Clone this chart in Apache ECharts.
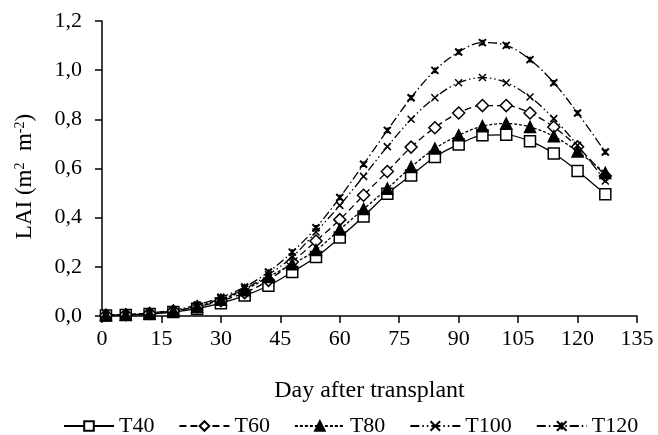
<!DOCTYPE html>
<html>
<head>
<meta charset="utf-8">
<script src="https://cdn.jsdelivr.net/npm/echarts@6/dist/echarts.min.js"></script>
<style>
  html, body { margin: 0; padding: 0; background: #fff; }
  #main { width: 658px; height: 435px; }
</style>
</head>
<body>
<div id="main"></div>
<script>
// days after transplant
var days = [1, 6, 12, 18, 24, 30, 36, 42, 48, 54, 60, 66, 72, 78, 84, 90, 96, 102, 108, 114, 120, 127];

var t40 = [0.002, 0.004, 0.008, 0.016, 0.030, 0.052, 0.083, 0.123, 0.179, 0.240, 0.319, 0.405, 0.497, 0.572, 0.647, 0.698, 0.735, 0.737, 0.711, 0.661, 0.590, 0.495];
var t60 = [0.003, 0.005, 0.010, 0.020, 0.037, 0.062, 0.095, 0.145, 0.220, 0.305, 0.392, 0.491, 0.588, 0.687, 0.766, 0.826, 0.856, 0.856, 0.826, 0.769, 0.688, 0.570];
var t80 = [0.003, 0.005, 0.010, 0.021, 0.038, 0.066, 0.105, 0.159, 0.211, 0.268, 0.352, 0.435, 0.518, 0.606, 0.681, 0.735, 0.772, 0.783, 0.769, 0.731, 0.669, 0.582];
var t100 = [0.003, 0.005, 0.011, 0.022, 0.040, 0.070, 0.110, 0.168, 0.240, 0.342, 0.450, 0.568, 0.689, 0.800, 0.888, 0.949, 0.970, 0.949, 0.891, 0.803, 0.694, 0.549];
var t120 = [0.003, 0.006, 0.012, 0.024, 0.045, 0.076, 0.118, 0.179, 0.260, 0.359, 0.482, 0.617, 0.755, 0.888, 0.999, 1.074, 1.112, 1.101, 1.043, 0.949, 0.826, 0.667];

var seriesNames = ['T40', 'T60', 'T80', 'T100', 'T120'];

var FONT = 'Liberation Serif';

var myChart = echarts.init(document.getElementById('main'));

function pairs(vals) {
    return vals.map(function (v, i) { return [days[i], v]; });
}

// marker shapes
var xPath = 'path://M0,0L10,10M10,0L0,10';
var starPath = 'path://M0,0L10,10M10,0L0,10M5,1L5,9';

function mkSeries(name, vals, symbol, size, dash, filled, strokeMarker) {
    return {
        name: name,
        type: 'line',
        data: pairs(vals),
        smooth: 0.35,
        symbol: symbol,
        symbolSize: size,
        showAllSymbol: true,
        lineStyle: { color: '#000', width: 1.3, type: dash },
        itemStyle: strokeMarker ? {
            color: 'rgba(0,0,0,0)',
            borderColor: '#000',
            borderWidth: strokeMarker
        } : {
            color: filled ? '#000' : '#fff',
            borderColor: '#000',
            borderWidth: 1.5
        },
        emphasis: { disabled: true },
        z: 2
    };
}

var option = {
    animation: false,
    backgroundColor: '#fff',
    grid: { left: 102, right: 21, top: 21, bottom: 119 },
    textStyle: { fontFamily: FONT, color: '#000' },
    xAxis: {
        type: 'value',
        min: 0,
        max: 135,
        interval: 15,
        name: 'Day after transplant',
        nameLocation: 'middle',
        nameGap: 63,
        nameTextStyle: { fontFamily: FONT, fontSize: 24, color: '#000' },
        axisLine: { show: true, lineStyle: { color: '#000', width: 1.5 } },
        axisTick: { show: true, inside: false, length: 7, lineStyle: { color: '#000', width: 1.5 } },
        axisLabel: { fontFamily: FONT, fontSize: 22, color: '#000', margin: 12 },
        splitLine: { show: false }
    },
    yAxis: {
        type: 'value',
        min: 0,
        max: 1.2,
        interval: 0.2,
        name: 'LAI (m{sup|2}  m{sup|-2})',
        nameLocation: 'middle',
        nameRotate: 90,
        nameGap: 66,
        nameTextStyle: {
            fontFamily: FONT, fontSize: 23, color: '#000',
            padding: [0, 16, 0, 0],
            rich: {
                sup: { fontFamily: FONT, fontSize: 14, color: '#000', verticalAlign: 'top', padding: [0, 0, 9, 0] }
            }
        },
        axisLine: { show: true, lineStyle: { color: '#000', width: 1.5 } },
        axisTick: { show: true, inside: false, length: 7, lineStyle: { color: '#000', width: 1.5 } },
        axisLabel: {
            fontFamily: FONT, fontSize: 22, color: '#000', margin: 20,
            formatter: function (v) { return v.toFixed(1).replace('.', ','); }
        },
        splitLine: { show: false }
    },
    legend: {
        data: seriesNames,
        top: 410,
        left: 58,
        right: 0,
        itemWidth: 50,
        itemHeight: 12,
        itemGap: 24,
        textStyle: { fontFamily: FONT, fontSize: 22, color: '#000' }
    },
    series: [
        mkSeries('T40', t40, 'rect', 11, 'solid', false, 0),
        mkSeries('T60', t60, 'diamond', 12, [7, 4], false, 0),
        mkSeries('T80', t80, 'triangle', 11, [3, 2], true, 0),
        mkSeries('T100', t100, xPath, 7, [9, 3, 1.5, 3, 1.5, 3], false, 1.5),
        mkSeries('T120', t120, starPath, 7, [9, 3, 1.5, 3], false, 2)
    ]
};

myChart.setOption(option);
</script>
</body>
</html>
